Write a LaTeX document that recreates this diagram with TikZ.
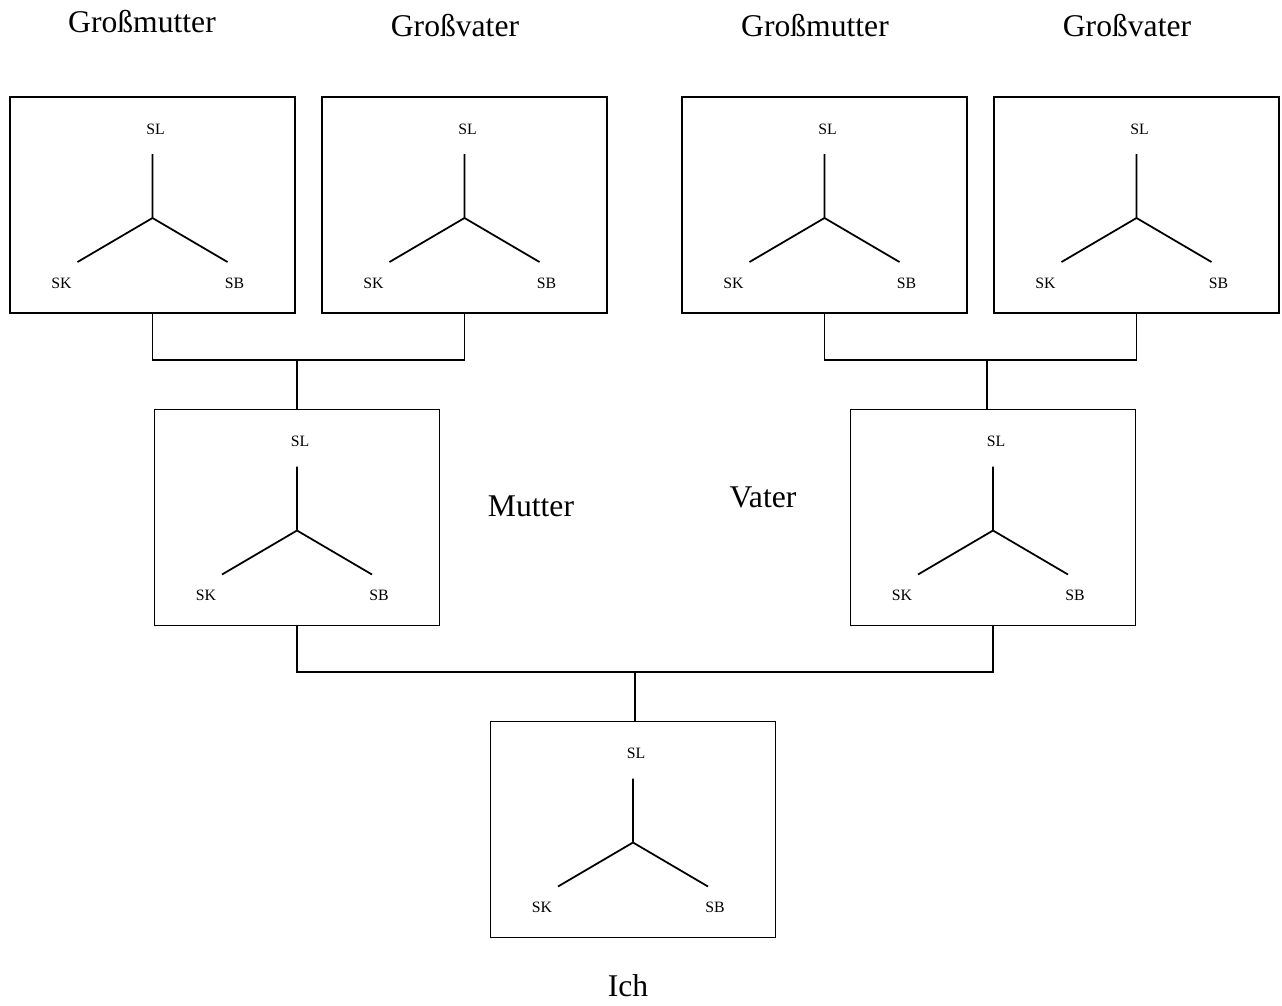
\documentclass[tikz,border=0pt]{standalone}
\usepackage{fontspec}
\setmainfont{Liberation Serif}
\usetikzlibrary{positioning}

\begin{document}
\begin{tikzpicture}[
    x=0.02cm, y=-0.02cm,
    person/.style={rectangle, draw, line width=1pt, minimum width=5.7cm, minimum height=4.32cm, inner sep=0pt},
    relname/.style={font=\fontsize{18}{20}\selectfont, inner sep=0pt},
    axislabel/.style={font=\fontsize{9}{10}\selectfont, inner sep=0pt},
    tripod/.pic={
        \draw[line width=1pt] (0,-51) -- (0,13) -- (-75,57);
        \draw[line width=1pt] (0,13) -- (75,57);
        \node[axislabel] (-sl) at (3,-76) {SL};
        \node[axislabel] (-sk) at (-91,78) {SK};
        \node[axislabel] (-sb) at (82,78) {SB};
    }
]
    \useasboundingbox (0,0) rectangle (1282,1005);

    % Grandparents
    \node[person] (gm1) at (152.5,205) {};
    \node[person] (gv1) at (464.5,205) {};
    \node[person] (gm2) at (824.5,205) {};
    \node[person] (gv2) at (1136.5,205) {};

    % Parents
    \node[person] (mutter) at (297,517.5) {};
    \node[person] (vater) at (993,517.5) {};

    % Me
    \node[person] (ich) at (633,829.5) {};

    % Tripods inside the boxes
    \foreach \b in {gm1,gv1,gm2,gv2,mutter,vater,ich}
        \pic (\b t) at (\b.center) {tripod};

    % Names
    \node[relname] (lgm1) at (142,22) {Großmutter};
    \node[relname] (lgv1) at (455,26) {Großvater};
    \node[relname] (lgm2) at (815,26) {Großmutter};
    \node[relname] (lgv2) at (1127,26) {Großvater};
    \node[relname] (lmutter) at (531,506) {Mutter};
    \node[relname] (lvater) at (763,497) {Vater};
    \node[relname] (lich) at (628,986) {Ich};

    % Connectors
    \coordinate (j1) at (297,360);
    \coordinate (j2) at (987,360);
    \coordinate (j3) at (635,672);
    \draw[line width=1pt] (gm1.south) |- (j1) -| (gv1.south);
    \draw[line width=1pt] (j1) -- (j1 |- mutter.north);
    \draw[line width=1pt] (gm2.south) |- (j2) -| (gv2.south);
    \draw[line width=1pt] (j2) -- (j2 |- vater.north);
    \draw[line width=1pt] (mutter.south) |- (j3) -| (vater.south);
    \draw[line width=1pt] (j3) -- (j3 |- ich.north);
\end{tikzpicture}
\end{document}
